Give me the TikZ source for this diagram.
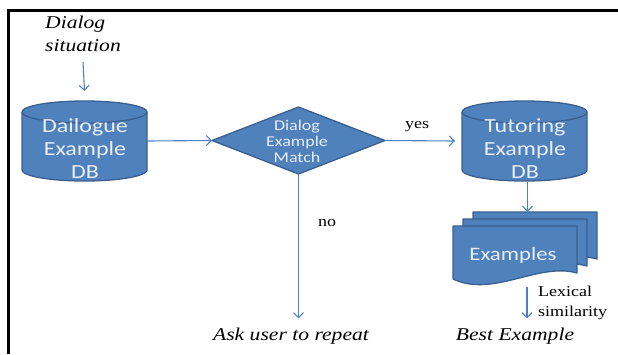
\documentclass[tikz,border=0pt]{standalone}
\usepackage{fontspec}
\setmainfont{Liberation Serif}[FakeStretch=1.2]
\newfontfamily\boxfont{Carlito}[FakeStretch=1.2]
\usetikzlibrary{arrows.meta,calc}

\definecolor{dbfill}{HTML}{4F81BD}
\definecolor{dbedge}{HTML}{3A6090}
\definecolor{flowblue}{HTML}{4F81C4}
\definecolor{boxtext}{HTML}{E8EEF7}

\tikzset{
  shapebox/.style={draw=none, inner sep=0pt, outer sep=0pt, rectangle},
  dbshape/.style={fill=dbfill, draw=dbedge, line width=1.3pt, line join=round},
  boxlabel/.style={inner sep=0pt, text=boxtext, align=center},
  note/.style={inner sep=0pt, text=black, font=\fontsize{15}{20}\selectfont},
  inote/.style={inner sep=0pt, text=black, font=\fontsize{18}{23}\selectfont\itshape},
  flow/.style={draw=flowblue, line width=1.1pt, -{Straight Barb[length=5pt,width=10pt]}},
}

% cylinder drawn over a rectangular node: #1 node name, #2 half width
\newcommand\dbcylinder[2]{%
  \filldraw[dbshape] ([yshift=-11pt]#1.north west) -- ([yshift=11pt]#1.south west)
    arc[start angle=180, end angle=360, x radius=#2pt, y radius=11pt]
    -- ([yshift=-11pt]#1.north east)
    arc[start angle=0, end angle=180, x radius=#2pt, y radius=11pt] -- cycle;
  \draw[dbshape, fill=none] ([yshift=-11pt]#1.north west)
    arc[start angle=180, end angle=360, x radius=#2pt, y radius=11pt];
}
% document sheet with a wavy lower edge, drawn over a rectangular node
\newcommand\docsheet[1]{%
  \filldraw[dbshape] (#1.north west) -- (#1.north east) -- ([yshift=6pt]#1.south east)
    .. controls ([xshift=-39pt,yshift=17pt]#1.south east) and ([xshift=40pt,yshift=-19pt]#1.south west)
    .. (#1.south west) -- cycle;
}

\begin{document}
\begin{tikzpicture}[x=1pt, y=-1pt]
\useasboundingbox (0,0) rectangle (618,354);
\fill[white] (0,0) rectangle (618,354);

% frame
\draw[line width=3pt, line cap=butt] (8.5,354) -- (8.5,10.5) -- (618,10.5);

% databases
\node[shapebox, minimum width=125pt, minimum height=80pt] (db1) at (84.5,141) {};
\node[shapebox, minimum width=125pt, minimum height=80pt] (db2) at (524.5,141) {};
\dbcylinder{db1}{62.5}
\dbcylinder{db2}{62.5}
\node[boxlabel, anchor=south, font=\boxfont\fontsize{20}{23}\selectfont] (db1t) at (85,179) {Dailogue\\Example\\DB};
\node[boxlabel, anchor=south, font=\boxfont\fontsize{20}{23}\selectfont] (db2t) at (525,179) {Tutoring\\Example\\DB};

% decision
\node[shapebox, minimum width=173pt, minimum height=67pt] (dm) at (298.5,140.5) {};
\filldraw[dbshape] (dm.west) -- (dm.north) -- (dm.east) -- (dm.south) -- cycle;
\node[boxlabel, anchor=south, font=\boxfont\fontsize{15}{16}\selectfont] (dmt) at (297,163) {Dialog\\Example\\Match};

% stacked example documents
\node[shapebox, anchor=north west, minimum width=124pt, minimum height=53pt] (docA) at (473,212) {};
\node[shapebox, anchor=north west, minimum width=124pt, minimum height=53pt] (docB) at (463,219) {};
\node[shapebox, anchor=north west, minimum width=124pt, minimum height=53pt] (docC) at (453,226) {};
\docsheet{docA}
\docsheet{docB}
\docsheet{docC}
\node[boxlabel, anchor=base, font=\boxfont\fontsize{19}{23}\selectfont] (doct) at (513,260) {Examples};

% free texts
\node[inote, anchor=south west, align=left] (ds) at (45,52) {Dialog\\situation};
\node[inote, anchor=base] (ask) at (291,340) {Ask user to repeat};
\node[inote, anchor=base] (best) at (515,340) {Best Example};
\node[note, anchor=base] (yes) at (417,128) {yes};
\node[note, anchor=base] (no) at (327,226) {no};
\node[note, anchor=south west, align=left] (lex) at (538,320) {Lexical\\similarity};

% connectors
\draw[flow] ([yshift=-10pt]ds.south) -- ([yshift=10pt]db1.north);
\draw[flow] (db1.east) -- (dm.west);
\draw[flow] (dm.east) -- ([xshift=-7pt]db2.west);
\draw[flow] (dm.south) -- ([yshift=9pt]dm.south |- ask.north);
\draw[flow] ([xshift=3pt,yshift=-1pt]db2.south) -- ([xshift=3pt]db2.south |- docA.north);
\draw[flow] ([xshift=12pt,yshift=-8pt]docC.south) -- ([xshift=12pt,yshift=9pt]docC.south |- best.north);
\end{tikzpicture}
\end{document}
